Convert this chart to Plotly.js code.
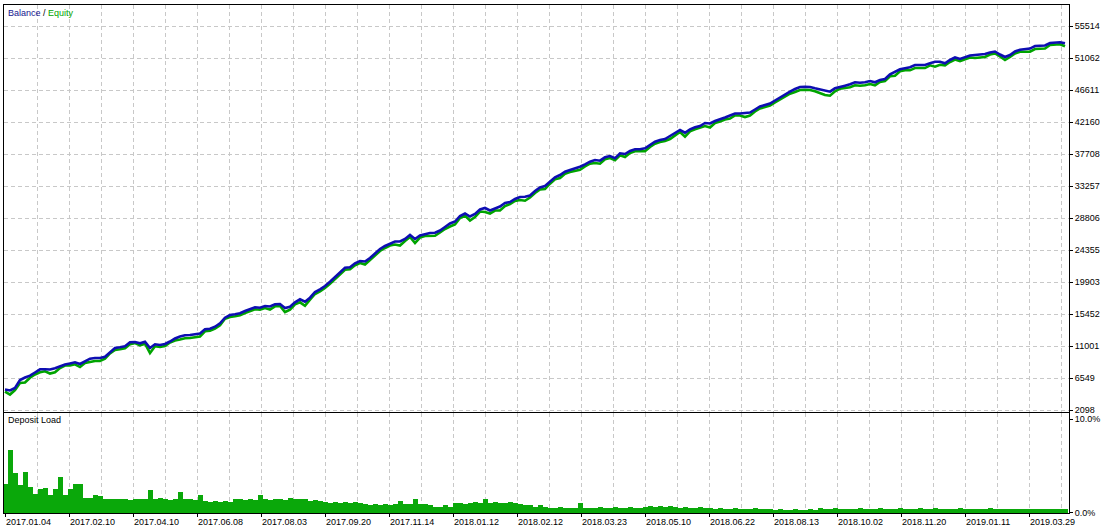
<!DOCTYPE html>
<html>
<head>
<meta charset="utf-8">
<script src="https://cdn.plot.ly/plotly-3.0.1.min.js"></script>
<style>
  html, body { margin: 0; padding: 0; background: #ffffff; }
  #chart { width: 1114px; height: 530px; }
</style>
</head>
<body>
<div id="chart"></div>
<script>
// ---- data ----
// Balance sampled along the deal axis
const balance = [
  4991, 4852, 5200, 6313, 6660, 6911, 7356, 7801, 7801, 7773,
  7940, 8260, 8469, 8608, 8775, 8538, 8956, 9276, 9373, 9373,
  9554, 10166, 10764, 10861, 11000, 11557, 11599, 11418, 11640, 10764,
  11279, 11181, 11320, 11668, 12085, 12364, 12531, 12572, 12642, 12781,
  13365, 13449, 13727, 14200, 14979, 15354, 15452, 15591, 15911, 16147,
  16425, 16370, 16606, 16537, 16843, 16884, 16328, 16509, 17121, 17538,
  17204, 17761, 18554, 18929, 19388, 19986, 20598, 21294, 21934, 21989,
  22546, 22866, 22796, 23283, 23978, 24535, 24952, 25300, 25578, 25578,
  25926, 26482, 25926, 26413, 26621, 26760, 26802, 27108, 27595, 28082,
  28360, 29125, 29473, 29056, 29403, 30029, 30238, 29890, 30168, 30447,
  30933, 31073, 31490, 31768, 31810, 31977, 32603, 33089, 33298, 33896,
  34508, 34828, 35287, 35524, 35705, 35983, 36317, 36678, 36915, 36817,
  37290, 37471, 37151, 37847, 37749, 38167, 38403, 38403, 38542, 39001,
  39460, 39697, 39836, 40253, 40629, 41088, 40712, 41185, 41463, 41644,
  42061, 41992, 42340, 42548, 42826, 43105, 43383, 43383, 43453, 43522,
  43939, 44357, 44565, 44774, 45191, 45636, 46026, 46415, 46791, 47069,
  47111, 47069, 46888, 46721, 46513, 46415, 46888, 47111, 47250, 47445,
  47723, 47667, 47723, 47904, 47723, 48043, 48182, 48836, 49197, 49531,
  49670, 49809, 50129, 50088, 50129, 50366, 50588, 50588, 50366, 50825,
  51172, 50964, 51242, 51451, 51520, 51562, 51659, 51868, 52007, 51590,
  51242, 51520, 52007, 52257, 52355, 52410, 52772, 52772, 52842, 53189,
  53287, 53301, 53148
];
// Floating loss (balance minus equity) at the same deals
const floatingLoss = [
  280, 560, 280, 420, 700, 280, 280, 420, 280, 560,
  560, 280, 140, 280, 280, 420, 280, 420, 420, 420,
  280, 140, 280, 280, 280, 280, 140, 280, 280, 700,
  280, 280, 280, 140, 280, 420, 420, 420, 420, 420,
  280, 280, 280, 280, 140, 280, 280, 280, 280, 280,
  280, 280, 280, 420, 280, 280, 560, 420, 280, 420,
  560, 280, 280, 280, 280, 280, 280, 280, 280, 280,
  280, 280, 420, 280, 280, 280, 280, 280, 420, 560,
  280, 280, 560, 280, 280, 420, 420, 280, 280, 420,
  420, 280, 280, 560, 420, 280, 560, 420, 280, 560,
  420, 280, 280, 420, 560, 280, 280, 280, 420, 280,
  280, 420, 280, 280, 280, 420, 280, 280, 420, 420,
  280, 280, 280, 280, 420, 280, 280, 280, 420, 280,
  280, 280, 280, 420, 280, 280, 560, 280, 280, 280,
  420, 560, 280, 280, 280, 420, 280, 280, 560, 420,
  280, 280, 280, 280, 280, 280, 280, 280, 420, 420,
  420, 420, 420, 560, 560, 560, 420, 280, 280, 420,
  420, 420, 420, 420, 420, 280, 280, 280, 560, 280,
  280, 420, 420, 420, 420, 280, 700, 420, 280, 280,
  280, 280, 280, 280, 420, 420, 420, 280, 280, 280,
  420, 280, 280, 280, 420, 420, 420, 420, 420, 280,
  280, 280, 420
];
// Deposit load, percent
const depositLoad = [
  3.1, 6.7, 4.2, 2.9, 4.3, 2.7, 2.0, 2.5, 2.6, 1.9,
  2.5, 3.8, 1.9, 2.5, 3.1, 3.0, 1.6, 1.6, 1.9, 1.8,
  1.5, 1.5, 1.4, 1.5, 1.4, 1.3, 1.4, 1.5, 1.4, 2.4,
  1.5, 1.6, 1.4, 1.3, 1.4, 2.2, 1.5, 1.4, 1.3, 1.9,
  1.2, 1.1, 1.2, 1.1, 1.2, 1.1, 1.5, 1.4, 1.3, 1.4,
  1.3, 1.9, 1.4, 1.3, 1.4, 1.5, 1.3, 1.6, 1.4, 1.5,
  1.4, 1.2, 1.3, 1.2, 1.1, 1.0, 1.1, 1.0, 1.1, 1.0,
  1.1, 1.0, 0.9, 0.8, 0.9, 0.8, 0.9, 0.8, 0.9, 1.2,
  0.9, 0.9, 1.4, 0.9, 0.9, 0.8, 0.6, 0.6, 0.8, 0.6,
  1.0, 1.0, 0.9, 1.0, 1.1, 1.0, 1.4, 1.0, 1.1, 1.0,
  1.0, 1.1, 1.0, 0.9, 0.8, 0.8, 0.6, 0.8, 0.6, 0.5,
  0.5, 0.6, 0.5, 0.5, 0.5, 1.0, 0.5, 0.5, 0.5, 0.6,
  0.5, 0.5, 0.6, 0.5, 0.5, 0.6, 0.5, 0.5, 0.6, 0.7,
  0.6, 0.7, 0.6, 0.7, 0.6, 0.5, 0.6, 0.5, 0.5, 0.6,
  0.5, 0.5, 0.4, 0.5, 0.4, 0.4, 0.5, 0.4, 0.4, 0.4,
  0.5, 0.4, 0.4, 0.4, 0.3, 0.4, 0.3, 0.3, 0.4, 0.3,
  0.3, 0.4, 0.3, 0.5, 0.4, 0.4, 0.5, 0.4, 0.4, 0.4,
  0.4, 0.5, 0.4, 0.4, 0.4, 0.5, 0.4, 0.4, 0.4, 0.5,
  0.4, 0.4, 0.4, 0.5, 0.4, 0.4, 0.5, 0.4, 0.4, 0.4,
  0.4, 0.5, 0.4, 0.4, 0.4, 0.4, 0.4, 0.5, 0.4, 0.4,
  0.4, 0.4, 0.4, 0.4, 0.4, 0.4, 0.4, 0.4, 0.4, 0.4,
  0.4, 0.4, 0.4
];
const dateLabels = ['2017.01.04','2017.02.10','2017.04.10','2017.06.08','2017.08.03','2017.09.20',
  '2017.11.14','2018.01.12','2018.02.12','2018.03.23','2018.05.10','2018.06.22','2018.08.13',
  '2018.10.02','2018.11.20','2019.01.11','2019.03.29'];
const balanceTickLabels = ['2098','6549','11001','15452','19903','24355','28806','33257',
  '37708','42160','46611','51062','55514'];
const loadTickLabels = ['0.0%','10.0%'];
const loadTickValues = [0, 10];

// ---- derived ----
const deals = balance.map((_, i) => i);
const equity = balance.map((b, i) => b - floatingLoss[i]);
const nDeals = balance.length;

// layout spacing (date label every 12.8 deals, grid every 6.4 deals)
const labelStep = 12.8, gridStep = 6.4;
const xTickVals = dateLabels.map((_, i) => i * labelStep);
const minorVals = [];
for (let v = gridStep; v < nDeals; v += gridStep * 2) minorVals.push(v);
const xRange = [-0.2, 212.8];

const FONT = 'Liberation Sans, Arial, sans-serif';
const gridCol = '#c8c8c8';
const gridDash = '4px,3px';

const traces = [
  { x: deals, y: equity, type: 'scatter', mode: 'lines', xaxis: 'x', yaxis: 'y',
    line: { color: '#00a400', width: 2.6 }, hoverinfo: 'skip' },
  { x: deals, y: balance, type: 'scatter', mode: 'lines', xaxis: 'x', yaxis: 'y',
    line: { color: '#0e0eb2', width: 2.6 }, hoverinfo: 'skip' },
  { x: deals, y: depositLoad, type: 'bar', xaxis: 'x2', yaxis: 'y2',
    marker: { color: '#0aa80a', line: { width: 0 } }, hoverinfo: 'skip' }
];

const xCommon = {
  range: xRange, showline: true, mirror: true, linecolor: '#000', linewidth: 1,
  zeroline: false, showgrid: true, gridcolor: gridCol, griddash: gridDash, gridwidth: 1,
  tickmode: 'array', tickvals: xTickVals, ticktext: dateLabels,
  minor: { tickmode: 'array', tickvals: minorVals, showgrid: true, gridcolor: gridCol,
           griddash: gridDash, gridwidth: 1, ticks: '' },
  fixedrange: true
};

const layout = {
  width: 1114, height: 530,
  margin: { l: 4, r: 45, t: 5, b: 17 },
  paper_bgcolor: '#ffffff', plot_bgcolor: '#ffffff',
  showlegend: false,
  bargap: 0,
  font: { family: FONT, size: 9, color: '#000' },
  xaxis: Object.assign({}, xCommon, { anchor: 'y', showticklabels: false, ticks: '' }),
  yaxis: {
    domain: [0.1998, 1], anchor: 'x', side: 'right',
    range: [1931, 58475],
    tickmode: 'array', tickvals: balanceTickLabels.map(Number), ticktext: balanceTickLabels,
    ticks: 'outside', ticklen: 3, tickcolor: '#000',
    showline: true, mirror: true, linecolor: '#000', linewidth: 1,
    showgrid: true, gridcolor: gridCol, griddash: gridDash, zeroline: false,
    tickfont: { family: FONT, size: 9, color: '#000' }, fixedrange: true
  },
  xaxis2: Object.assign({}, xCommon, {
    anchor: 'y2', ticks: 'outside', ticklen: 3, tickcolor: '#000',
    ticklabelposition: 'outside right',
    tickfont: { family: FONT, size: 9, color: '#000' }
  }),
  yaxis2: {
    domain: [0, 0.1959], anchor: 'x2', side: 'right',
    range: [-0.05, 10.59],
    tickmode: 'array', tickvals: loadTickValues, ticktext: loadTickLabels,
    ticks: 'outside', ticklen: 3, tickcolor: '#000',
    showline: true, mirror: true, linecolor: '#000', linewidth: 1,
    showgrid: false, zeroline: false,
    tickfont: { family: FONT, size: 9, color: '#000' }, fixedrange: true
  },
  annotations: [
    { xref: 'x domain', yref: 'y domain', x: 0, y: 1, xanchor: 'left', yanchor: 'top',
      xshift: 2, yshift: -1, showarrow: false,
      text: '<span style="color:#141490">Balance</span> / <span style="color:#00a400">Equity</span>',
      font: { family: FONT, size: 9, color: '#000' } },
    { xref: 'x2 domain', yref: 'y2 domain', x: 0, y: 1, xanchor: 'left', yanchor: 'top',
      xshift: 2, yshift: 0, showarrow: false, text: 'Deposit Load',
      font: { family: FONT, size: 9, color: '#000' } }
  ]
};

Plotly.newPlot('chart', traces, layout, { staticPlot: true, displayModeBar: false });
</script>
</body>
</html>
